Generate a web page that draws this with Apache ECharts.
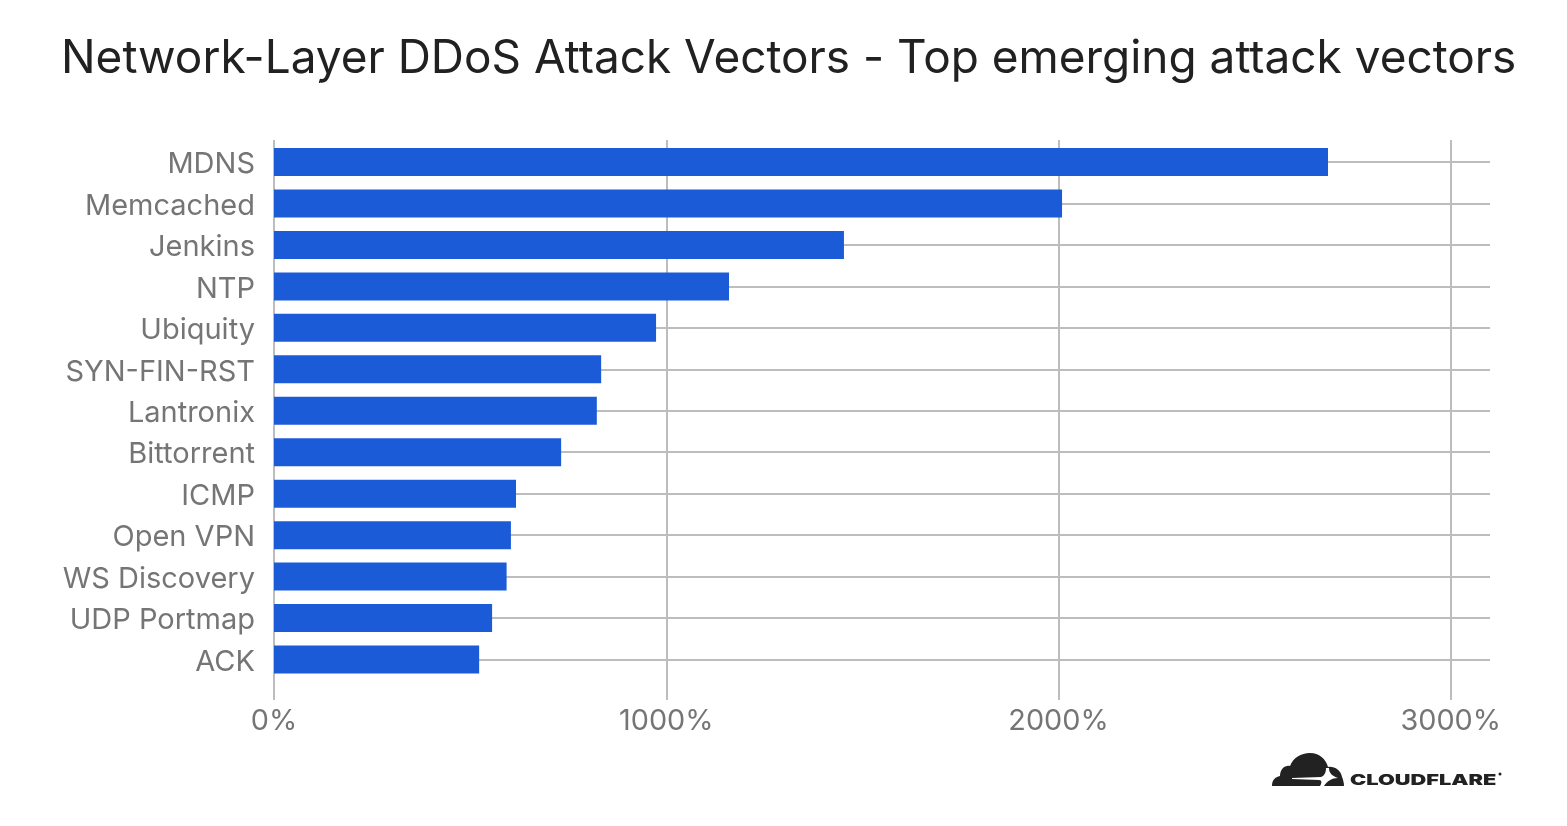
<!DOCTYPE html>
<html>
<head>
<meta charset="utf-8">
<style>html,body{margin:0;padding:0;background:#fff}#main{width:1567px;height:826px}</style>
<script src="https://cdn.jsdelivr.net/npm/echarts@6/dist/echarts.min.js"></script>
</head>
<body>
<div id="main"></div>
<script>
const categories = ['MDNS', 'Memcached', 'Jenkins', 'NTP', 'Ubiquity', 'SYN-FIN-RST', 'Lantronix', 'Bittorrent', 'ICMP', 'Open VPN', 'WS Discovery', 'UDP Portmap', 'ACK'];
const growth = [2687, 2009, 1453, 1160, 974, 834, 823, 732, 617, 604, 593, 556, 523];

const FONT = 'Inter';
const GRID_COLOR = '#bdbdbd';
const LABEL_COLOR = '#757575';
const LOGO_COLOR = '#222222';

var chartDom = document.getElementById('main');
var myChart = echarts.init(chartDom, null, { renderer: 'canvas' });

// cloud logo, in its own 72x33 box
const cloudPath = 'M0 33 C0 27 3 24 8 23 C8 16 13 12 18 13 C21 5 29 0 38 0 C47 0 54 6 56 14 C62 13 69 17 70 24 C71 26 72 30 72 33 Z';
const cloudGapPath = 'M20 25 L49 24 C52 23 54 20 54 15 L57 15 C57 20 60 23 66 25 C60 25 55 28 52 33 L48 33 C50 30 50 27 47 27 L20 26 Z';

function renderLogo() {
  return {
    type: 'group',
    x: 1272,
    y: 753,
    children: [
      { type: 'path', shape: { pathData: cloudPath, x: 0, y: 0, width: 72, height: 33, layout: 'cover' }, style: { fill: LOGO_COLOR } },
      { type: 'path', shape: { pathData: cloudGapPath, x: 20, y: 15, width: 46, height: 18, layout: 'cover' }, style: { fill: '#ffffff' } }
    ]
  };
}

var option = {
  animation: false,
  title: {
    text: 'Network-Layer DDoS Attack Vectors - Top emerging attack vectors',
    left: 56,
    top: 31,
    textStyle: { fontFamily: FONT, fontSize: 45.95, fontWeight: 400, color: '#212121' }
  },
  grid: [
    // bars and horizontal lines run from first to last category centre
    { left: 274, width: 1216, top: 162, height: 497.5 },
    // frame for the vertical lines, taller than the bars
    { left: 274, width: 1216, top: 140, height: 560 }
  ],
  xAxis: [
    { gridIndex: 0, type: 'value', min: 0, max: 3100, show: false },
    {
      gridIndex: 1,
      type: 'value',
      min: 0,
      max: 3100,
      interval: 1000,
      axisLine: { show: false },
      axisTick: { show: false },
      axisLabel: {
        show: true,
        showMaxLabel: false,
        formatter: (v) => v + '%',
        margin: 7,
        fontFamily: FONT,
        fontSize: 28.8,
        color: LABEL_COLOR
      },
      splitLine: { show: true, showMaxLine: false, lineStyle: { color: GRID_COLOR, width: 2 } }
    }
  ],
  yAxis: [
    {
      gridIndex: 0,
      type: 'category',
      inverse: true,
      boundaryGap: false,
      data: categories,
      axisLine: { show: false },
      axisTick: { show: false },
      // labels sit a little under the bar centre
      axisLabel: { interval: 0, margin: 19, verticalAlign: 'top', lineHeight: 5, fontFamily: FONT, fontSize: 29, color: LABEL_COLOR },
      splitLine: { show: true, interval: 0, lineStyle: { color: GRID_COLOR, width: 2 } }
    },
    { gridIndex: 1, type: 'value', show: false, min: 0, max: 1 }
  ],
  series: [
    {
      type: 'bar',
      xAxisIndex: 0,
      yAxisIndex: 0,
      data: growth,
      barWidth: 28,
      clip: false,
      z: 3,
      itemStyle: { color: '#1c5bd8' }
    },
    {
      type: 'custom',
      coordinateSystem: 'none',
      silent: true,
      data: [0],
      renderItem: renderLogo
    }
  ],
  graphic: [
    {
      type: 'text',
      x: 1350,
      y: 773,
      scaleX: 1.45,
      style: { text: 'CLOUDFLARE', font: '900 15px Inter', fill: LOGO_COLOR }
    },
    {
      type: 'circle',
      shape: { cx: 1500, cy: 774, r: 1.5 },
      style: { fill: LOGO_COLOR }
    }
  ]
};

option && myChart.setOption(option);
</script>
</body>
</html>
